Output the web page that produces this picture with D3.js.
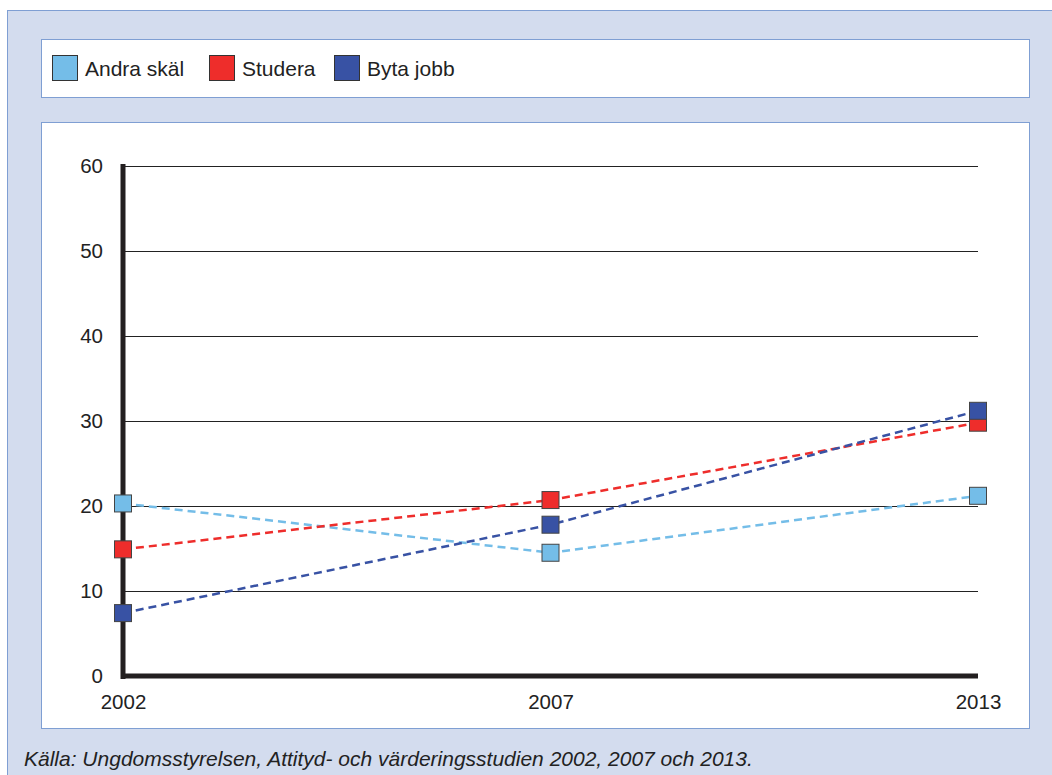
<!DOCTYPE html>
<html>
<head>
<meta charset="utf-8">
<script src="https://cdn.jsdelivr.net/npm/d3@7"></script>
<style>
  body { margin: 0; background: #fff; }
  svg { display: block; font-family: Arial, "Liberation Sans", sans-serif; }
</style>
</head>
<body>
<div id="vis"></div>
<script>
// Chart data
var years = ["2002", "2007", "2013"];
var seriesNames = ["Andra skäl", "Studera", "Byta jobb"];
var andraSkal = [20.3, 14.5, 21.2];
var studera = [14.9, 20.7, 29.8];
var bytaJobb = [7.4, 17.8, 31.2];
var yTicks = [0, 10, 20, 30, 40, 50, 60];
var sourceText = "Källa: Ungdomsstyrelsen, Attityd- och värderingsstudien 2002, 2007 och 2013.";

var colors = ["#74bde8", "#ee2d2b", "#3852a4"];
var seriesValues = [andraSkal, studera, bytaJobb];

var width = 1052;
var height = 775;

var svg = d3.select("#vis")
            .append("svg")
            .attr("width", width)
            .attr("height", height);

// outer panel
svg.append("rect")
    .attr("x", 7.5).attr("y", 10.5)
    .attr("width", width).attr("height", height)
    .attr("fill", "#d3dcee")
    .attr("stroke", "#7f9fd3");

// legend box
svg.append("rect")
    .attr("x", 41.5).attr("y", 39.5)
    .attr("width", 988).attr("height", 58)
    .attr("fill", "#fff")
    .attr("stroke", "#7f9fd3");

// chart box
svg.append("rect")
    .attr("x", 41.5).attr("y", 122.5)
    .attr("width", 988).attr("height", 606)
    .attr("fill", "#fff")
    .attr("stroke", "#7f9fd3");

// legend items
var legendX = [52, 209, 334];
var legend = svg.append("g");
seriesNames.forEach(function(name, i) {
    legend.append("rect")
        .attr("x", legendX[i] + 0.5).attr("y", 55.5)
        .attr("width", 25).attr("height", 25)
        .attr("fill", colors[i])
        .attr("stroke", "#333")
        .attr("stroke-width", 1);
    legend.append("text")
        .attr("x", legendX[i] + 33)
        .attr("y", 76)
        .attr("font-size", 21)
        .attr("fill", "#222")
        .text(name);
});

// scales
var x = d3.scalePoint()
    .domain(years)
    .range([123, 978]);

var y = d3.scaleLinear()
    .domain([0, 60])
    .range([676, 166]);

// gridlines
svg.append("g")
    .selectAll("line")
    .data(yTicks.slice(1))
    .enter().append("line")
    .attr("x1", 123).attr("x2", 978)
    .attr("y1", function(d) { return Math.round(y(d)) + 0.5; })
    .attr("y2", function(d) { return Math.round(y(d)) + 0.5; })
    .attr("stroke", "#222")
    .attr("stroke-width", 1);

// y axis
var yAxis = svg.append("g")
    .attr("transform", "translate(123,0)")
    .call(d3.axisLeft(y).tickValues(yTicks).tickSize(0).tickPadding(20));
yAxis.select(".domain").remove();
yAxis.selectAll("text")
    .attr("font-size", 20.5)
    .attr("fill", "#222")
    .attr("font-family", "Arial, 'Liberation Sans', sans-serif");

// x axis
var xAxis = svg.append("g")
    .attr("transform", "translate(0,676)")
    .call(d3.axisBottom(x).tickSize(0).tickPadding(18));
xAxis.select(".domain").remove();
xAxis.selectAll("text")
    .attr("font-size", 20.5)
    .attr("fill", "#222")
    .attr("font-family", "Arial, 'Liberation Sans', sans-serif");

// thick axis lines
svg.append("line")
    .attr("x1", 123).attr("x2", 123)
    .attr("y1", 164).attr("y2", 679)
    .attr("stroke", "#231f20").attr("stroke-width", 5);
svg.append("line")
    .attr("x1", 121).attr("x2", 978)
    .attr("y1", 676).attr("y2", 676)
    .attr("stroke", "#231f20").attr("stroke-width", 5);

// lines
var line = d3.line()
    .x(function(d, i) { return x(years[i]); })
    .y(function(d) { return y(d); });

var series = svg.append("g")
    .selectAll("g")
    .data(seriesValues)
    .enter().append("g");

series.append("path")
    .attr("d", line)
    .attr("fill", "none")
    .attr("stroke", function(d, i) { return colors[i]; })
    .attr("stroke-width", 2.5)
    .attr("stroke-dasharray", "8,5");

// markers drawn after all lines
var ms = 17;
seriesValues.forEach(function(vals, s) {
    svg.append("g")
        .selectAll("rect")
        .data(vals)
        .enter().append("rect")
        .attr("x", function(d, i) { return x(years[i]) - ms / 2; })
        .attr("y", function(d) { return y(d) - ms / 2; })
        .attr("width", ms).attr("height", ms)
        .attr("fill", colors[s])
        .attr("stroke", "#444")
        .attr("stroke-width", 1);
});

// source
svg.append("text")
    .attr("x", 24)
    .attr("y", 766)
    .attr("font-size", 21)
    .attr("font-style", "italic")
    .attr("fill", "#222")
    .text(sourceText);
</script>
</body>
</html>
